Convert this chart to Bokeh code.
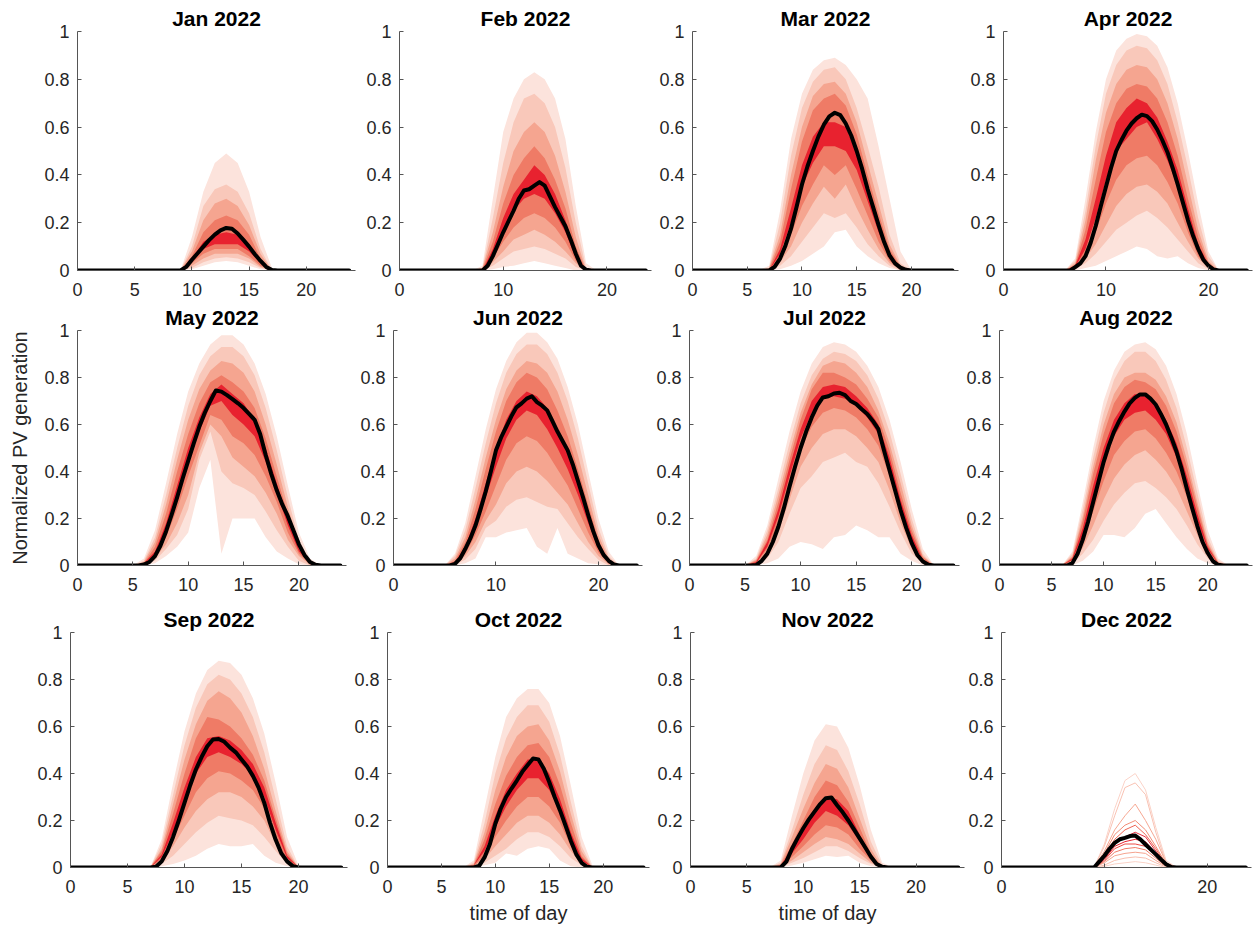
import numpy as np
from bokeh.plotting import figure
from bokeh.layouts import column, row
from bokeh.models import Range1d, FixedTicker, CustomJSTickFormatter
from bokeh.embed import file_html
from bokeh.resources import INLINE

# ---------------- data ----------------
HOURS = [float(h) for h in range(24)] + [23.75]
HALF_HOURS = [h * 0.5 for h in range(48)] + [23.75]
QUANTILES = [5, 15, 25, 35, 45, 55, 65, 75, 85, 95]
Y_TICKS = [0, 0.2, 0.4, 0.6, 0.8, 1]
X_TICKS_FINE = [0, 5, 10, 15, 20]
X_TICKS_COARSE = [0, 10, 20]
MONTH_TITLES = ["Jan 2022", "Feb 2022", "Mar 2022", "Apr 2022", "May 2022", "Jun 2022",
                "Jul 2022", "Aug 2022", "Sep 2022", "Oct 2022", "Nov 2022", "Dec 2022"]

# mean profiles, half-hourly from *_START hour
JAN_START = 9
JAN_MEAN = [0.0, 0.015, 0.045, 0.072, 0.10, 0.127, 0.15, 0.168, 0.178, 0.175, 0.155, 0.128,
            0.10, 0.068, 0.04, 0.015, 0.002, 0.0]
# quantile profiles (5th ... 95th percentile), hourly from *_START hour
JAN_Q = [
    [0.0, 0.005, 0.02, 0.035, 0.04, 0.035, 0.02, 0.005, 0.0],
    [0.0, 0.01, 0.035, 0.05, 0.055, 0.05, 0.035, 0.01, 0.0],
    [0.0, 0.02, 0.05, 0.07, 0.07, 0.07, 0.05, 0.015, 0.0],
    [0.0, 0.03, 0.07, 0.09, 0.09, 0.09, 0.06, 0.02, 0.0],
    [0.0, 0.04, 0.09, 0.11, 0.11, 0.11, 0.08, 0.03, 0.0],
    [0.0, 0.05, 0.12, 0.15, 0.16, 0.15, 0.11, 0.04, 0.0],
    [0.0, 0.06, 0.16, 0.21, 0.23, 0.21, 0.15, 0.05, 0.0],
    [0.0, 0.08, 0.21, 0.28, 0.30, 0.27, 0.19, 0.07, 0.0],
    [0.0, 0.10, 0.27, 0.34, 0.36, 0.33, 0.24, 0.09, 0.0],
    [0.0, 0.14, 0.33, 0.45, 0.49, 0.45, 0.33, 0.14, 0.01],
]

FEB_START = 8
FEB_MEAN = [0.0, 0.02, 0.06, 0.11, 0.16, 0.205, 0.25, 0.30, 0.335, 0.34, 0.355, 0.37, 0.355,
            0.31, 0.265, 0.225, 0.185, 0.13, 0.07, 0.02, 0.003, 0.0]
FEB_Q = [
    [0.0, 0.005, 0.015, 0.02, 0.03, 0.04, 0.03, 0.02, 0.01, 0.0, 0.0],
    [0.0, 0.02, 0.05, 0.08, 0.09, 0.10, 0.09, 0.07, 0.05, 0.015, 0.0],
    [0.0, 0.035, 0.08, 0.13, 0.15, 0.17, 0.15, 0.12, 0.08, 0.03, 0.0],
    [0.0, 0.05, 0.12, 0.18, 0.22, 0.24, 0.22, 0.18, 0.12, 0.04, 0.0],
    [0.0, 0.07, 0.16, 0.25, 0.30, 0.32, 0.30, 0.24, 0.16, 0.05, 0.0],
    [0.0, 0.09, 0.22, 0.32, 0.38, 0.44, 0.40, 0.32, 0.21, 0.07, 0.0],
    [0.005, 0.12, 0.28, 0.40, 0.47, 0.52, 0.47, 0.38, 0.26, 0.10, 0.0],
    [0.01, 0.16, 0.35, 0.50, 0.58, 0.62, 0.58, 0.48, 0.33, 0.14, 0.0],
    [0.01, 0.22, 0.45, 0.62, 0.72, 0.74, 0.70, 0.60, 0.43, 0.20, 0.01],
    [0.02, 0.30, 0.58, 0.72, 0.80, 0.83, 0.80, 0.72, 0.55, 0.27, 0.03],
]

MAR_START = 7
MAR_MEAN = [0.0, 0.015, 0.05, 0.105, 0.175, 0.265, 0.36, 0.435, 0.50, 0.56, 0.61, 0.645, 0.66,
            0.65, 0.615, 0.565, 0.50, 0.425, 0.34, 0.265, 0.19, 0.12, 0.063, 0.03, 0.012, 0.003, 0.0]
MAR_Q = [
    [0.0, 0.005, 0.02, 0.04, 0.07, 0.10, 0.16, 0.17, 0.10, 0.06, 0.03, 0.01, 0.0, 0.0],
    [0.0, 0.02, 0.06, 0.12, 0.18, 0.24, 0.22, 0.24, 0.18, 0.11, 0.06, 0.02, 0.0, 0.0],
    [0.0, 0.035, 0.10, 0.20, 0.28, 0.35, 0.30, 0.36, 0.26, 0.17, 0.09, 0.03, 0.003, 0.0],
    [0.0, 0.05, 0.15, 0.27, 0.36, 0.44, 0.40, 0.44, 0.34, 0.23, 0.12, 0.04, 0.005, 0.0],
    [0.0, 0.07, 0.20, 0.35, 0.45, 0.52, 0.52, 0.50, 0.42, 0.29, 0.16, 0.05, 0.008, 0.0],
    [0.0, 0.09, 0.26, 0.44, 0.56, 0.62, 0.62, 0.60, 0.49, 0.34, 0.20, 0.07, 0.01, 0.0],
    [0.005, 0.12, 0.34, 0.54, 0.67, 0.72, 0.74, 0.69, 0.57, 0.40, 0.24, 0.09, 0.015, 0.0],
    [0.01, 0.15, 0.40, 0.60, 0.73, 0.78, 0.79, 0.74, 0.62, 0.45, 0.28, 0.11, 0.02, 0.0],
    [0.01, 0.20, 0.48, 0.68, 0.79, 0.84, 0.85, 0.80, 0.68, 0.52, 0.35, 0.15, 0.03, 0.0],
    [0.02, 0.25, 0.55, 0.74, 0.84, 0.88, 0.89, 0.86, 0.80, 0.72, 0.52, 0.30, 0.08, 0.0],
]

APR_START = 6
APR_MEAN = [0.0, 0.0, 0.014, 0.03, 0.06, 0.115, 0.186, 0.27, 0.35, 0.43, 0.50, 0.545, 0.585,
            0.615, 0.637, 0.652, 0.646, 0.625, 0.59, 0.545, 0.495, 0.43, 0.36, 0.285, 0.21,
            0.145, 0.09, 0.045, 0.02, 0.004, 0.0]
APR_Q = [
    [0.0, 0.0, 0.01, 0.02, 0.04, 0.06, 0.08, 0.10, 0.09, 0.06, 0.05, 0.06, 0.03, 0.01, 0.0, 0.0],
    [0.0, 0.005, 0.03, 0.07, 0.12, 0.17, 0.20, 0.23, 0.25, 0.22, 0.18, 0.13, 0.08, 0.03, 0.005, 0.0],
    [0.0, 0.008, 0.05, 0.11, 0.19, 0.27, 0.32, 0.35, 0.36, 0.33, 0.28, 0.20, 0.12, 0.05, 0.01, 0.0],
    [0.0, 0.01, 0.07, 0.16, 0.28, 0.38, 0.44, 0.47, 0.48, 0.44, 0.37, 0.28, 0.16, 0.06, 0.015, 0.0],
    [0.0, 0.015, 0.09, 0.22, 0.38, 0.50, 0.55, 0.60, 0.62, 0.55, 0.46, 0.35, 0.20, 0.08, 0.02, 0.0],
    [0.0, 0.02, 0.13, 0.30, 0.48, 0.62, 0.68, 0.72, 0.70, 0.64, 0.54, 0.42, 0.26, 0.11, 0.025, 0.0],
    [0.0, 0.025, 0.17, 0.38, 0.58, 0.70, 0.76, 0.78, 0.77, 0.72, 0.62, 0.48, 0.30, 0.14, 0.03, 0.0],
    [0.0, 0.03, 0.21, 0.46, 0.66, 0.78, 0.84, 0.86, 0.85, 0.80, 0.70, 0.55, 0.36, 0.17, 0.04, 0.0],
    [0.0, 0.04, 0.25, 0.52, 0.74, 0.86, 0.92, 0.94, 0.93, 0.88, 0.78, 0.62, 0.43, 0.22, 0.06, 0.0],
    [0.0, 0.05, 0.30, 0.58, 0.80, 0.92, 0.97, 0.99, 0.98, 0.94, 0.85, 0.70, 0.50, 0.28, 0.08, 0.0],
]

MAY_START = 5
MAY_MEAN = [0.0, 0.0, 0.004, 0.015, 0.04, 0.085, 0.145, 0.215, 0.29, 0.37, 0.445, 0.52, 0.59,
            0.65, 0.70, 0.745, 0.74, 0.725, 0.708, 0.69, 0.67, 0.645, 0.62, 0.56, 0.47, 0.39,
            0.32, 0.26, 0.21, 0.15, 0.09, 0.045, 0.015, 0.003, 0.0]
MAY_Q = [
    [0.0, 0.0, 0.01, 0.04, 0.08, 0.14, 0.33, 0.45, 0.05, 0.20, 0.20, 0.20, 0.12, 0.06, 0.03, 0.005, 0.0, 0.0],
    [0.0, 0.002, 0.02, 0.07, 0.13, 0.24, 0.45, 0.57, 0.40, 0.35, 0.33, 0.30, 0.23, 0.15, 0.08, 0.02, 0.0, 0.0],
    [0.0, 0.003, 0.03, 0.09, 0.18, 0.30, 0.48, 0.60, 0.55, 0.46, 0.42, 0.38, 0.31, 0.22, 0.11, 0.04, 0.003, 0.0],
    [0.0, 0.005, 0.04, 0.12, 0.24, 0.38, 0.51, 0.64, 0.62, 0.55, 0.52, 0.47, 0.38, 0.27, 0.14, 0.05, 0.005, 0.0],
    [0.0, 0.005, 0.05, 0.15, 0.29, 0.44, 0.57, 0.68, 0.70, 0.64, 0.60, 0.55, 0.44, 0.31, 0.17, 0.06, 0.01, 0.0],
    [0.0, 0.01, 0.06, 0.18, 0.34, 0.50, 0.63, 0.73, 0.77, 0.73, 0.69, 0.62, 0.50, 0.35, 0.20, 0.07, 0.01, 0.0],
    [0.0, 0.01, 0.08, 0.22, 0.40, 0.56, 0.69, 0.78, 0.81, 0.78, 0.74, 0.67, 0.54, 0.38, 0.22, 0.08, 0.01, 0.0],
    [0.0, 0.015, 0.10, 0.26, 0.45, 0.62, 0.75, 0.83, 0.87, 0.86, 0.82, 0.74, 0.60, 0.43, 0.25, 0.09, 0.015, 0.0],
    [0.0, 0.02, 0.12, 0.30, 0.50, 0.68, 0.81, 0.89, 0.93, 0.93, 0.89, 0.81, 0.67, 0.49, 0.29, 0.11, 0.02, 0.0],
    [0.0, 0.03, 0.15, 0.35, 0.56, 0.74, 0.86, 0.94, 0.98, 0.98, 0.94, 0.86, 0.73, 0.55, 0.34, 0.14, 0.03, 0.0],
]

JUN_START = 5
JUN_MEAN = [0.0, 0.0, 0.007, 0.03, 0.07, 0.115, 0.17, 0.24, 0.315, 0.40, 0.49, 0.545, 0.59,
            0.635, 0.673, 0.69, 0.71, 0.72, 0.695, 0.68, 0.66, 0.615, 0.57, 0.53, 0.49, 0.43,
            0.36, 0.29, 0.215, 0.145, 0.086, 0.045, 0.02, 0.005, 0.0]
JUN_Q = [
    [0.0, 0.0, 0.01, 0.03, 0.12, 0.12, 0.14, 0.15, 0.16, 0.08, 0.05, 0.16, 0.05, 0.03, 0.01, 0.005, 0.0, 0.0],
    [0.0, 0.003, 0.025, 0.07, 0.16, 0.19, 0.25, 0.28, 0.29, 0.27, 0.25, 0.24, 0.18, 0.12, 0.07, 0.025, 0.0, 0.0],
    [0.0, 0.005, 0.04, 0.10, 0.19, 0.26, 0.35, 0.40, 0.42, 0.40, 0.36, 0.31, 0.26, 0.18, 0.10, 0.04, 0.005, 0.0],
    [0.0, 0.008, 0.05, 0.13, 0.23, 0.34, 0.45, 0.52, 0.55, 0.53, 0.48, 0.41, 0.34, 0.24, 0.14, 0.055, 0.008, 0.0],
    [0.0, 0.01, 0.065, 0.16, 0.29, 0.42, 0.54, 0.62, 0.66, 0.64, 0.58, 0.50, 0.41, 0.30, 0.18, 0.07, 0.01, 0.0],
    [0.0, 0.015, 0.08, 0.20, 0.35, 0.50, 0.62, 0.70, 0.74, 0.72, 0.67, 0.58, 0.48, 0.36, 0.22, 0.09, 0.015, 0.0],
    [0.0, 0.02, 0.10, 0.24, 0.41, 0.57, 0.70, 0.78, 0.82, 0.80, 0.75, 0.66, 0.55, 0.41, 0.26, 0.11, 0.02, 0.0],
    [0.0, 0.03, 0.12, 0.28, 0.46, 0.62, 0.75, 0.83, 0.87, 0.86, 0.82, 0.74, 0.62, 0.47, 0.30, 0.13, 0.03, 0.0],
    [0.0, 0.04, 0.15, 0.33, 0.52, 0.69, 0.82, 0.90, 0.94, 0.94, 0.90, 0.82, 0.70, 0.54, 0.35, 0.16, 0.04, 0.0],
    [0.0, 0.05, 0.18, 0.38, 0.58, 0.75, 0.87, 0.95, 0.99, 0.99, 0.95, 0.88, 0.76, 0.60, 0.40, 0.20, 0.06, 0.0],
]

JUL_START = 5
JUL_MEAN = [0.0, 0.0, 0.002, 0.02, 0.05, 0.10, 0.165, 0.245, 0.335, 0.42, 0.50, 0.57, 0.63,
            0.68, 0.715, 0.72, 0.732, 0.735, 0.725, 0.70, 0.687, 0.665, 0.645, 0.615, 0.58,
            0.49, 0.405, 0.32, 0.235, 0.16, 0.095, 0.045, 0.017, 0.003, 0.0]
JUL_Q = [
    [0.0, 0.0, 0.01, 0.03, 0.08, 0.10, 0.09, 0.07, 0.12, 0.13, 0.17, 0.15, 0.12, 0.12, 0.05, 0.02, 0.0, 0.0],
    [0.0, 0.003, 0.03, 0.10, 0.22, 0.33, 0.38, 0.44, 0.46, 0.48, 0.44, 0.42, 0.35, 0.25, 0.14, 0.05, 0.01, 0.0],
    [0.0, 0.005, 0.05, 0.14, 0.28, 0.42, 0.50, 0.56, 0.58, 0.58, 0.55, 0.50, 0.44, 0.32, 0.18, 0.07, 0.01, 0.0],
    [0.0, 0.008, 0.07, 0.18, 0.34, 0.49, 0.59, 0.65, 0.67, 0.66, 0.63, 0.58, 0.51, 0.38, 0.22, 0.09, 0.015, 0.0],
    [0.0, 0.01, 0.08, 0.21, 0.38, 0.54, 0.65, 0.71, 0.72, 0.71, 0.68, 0.63, 0.56, 0.42, 0.25, 0.11, 0.02, 0.0],
    [0.0, 0.015, 0.10, 0.24, 0.42, 0.58, 0.70, 0.76, 0.77, 0.76, 0.72, 0.67, 0.60, 0.46, 0.28, 0.13, 0.025, 0.0],
    [0.0, 0.02, 0.11, 0.27, 0.45, 0.62, 0.75, 0.82, 0.82, 0.80, 0.77, 0.71, 0.63, 0.49, 0.31, 0.15, 0.035, 0.0],
    [0.0, 0.025, 0.13, 0.30, 0.48, 0.65, 0.77, 0.85, 0.87, 0.86, 0.82, 0.76, 0.66, 0.52, 0.35, 0.17, 0.04, 0.0],
    [0.0, 0.03, 0.15, 0.33, 0.52, 0.69, 0.81, 0.88, 0.91, 0.90, 0.87, 0.81, 0.71, 0.57, 0.39, 0.20, 0.05, 0.0],
    [0.0, 0.04, 0.17, 0.37, 0.57, 0.74, 0.86, 0.93, 0.95, 0.94, 0.91, 0.85, 0.76, 0.62, 0.44, 0.24, 0.07, 0.0],
]

AUG_START = 6
AUG_MEAN = [0.0, 0.0, 0.01, 0.05, 0.11, 0.185, 0.27, 0.355, 0.44, 0.51, 0.57, 0.615, 0.655,
            0.69, 0.713, 0.728, 0.728, 0.71, 0.685, 0.645, 0.60, 0.545, 0.485, 0.41, 0.325,
            0.245, 0.168, 0.10, 0.053, 0.018, 0.003, 0.0]
AUG_Q = [
    [0.0, 0.0, 0.02, 0.06, 0.13, 0.13, 0.12, 0.16, 0.22, 0.24, 0.18, 0.12, 0.07, 0.03, 0.01, 0.0, 0.0],
    [0.0, 0.01, 0.05, 0.11, 0.19, 0.26, 0.31, 0.35, 0.36, 0.33, 0.29, 0.24, 0.17, 0.09, 0.03, 0.0, 0.0],
    [0.0, 0.015, 0.075, 0.17, 0.28, 0.37, 0.43, 0.47, 0.49, 0.45, 0.40, 0.33, 0.23, 0.13, 0.04, 0.004, 0.0],
    [0.0, 0.02, 0.10, 0.23, 0.36, 0.47, 0.53, 0.57, 0.58, 0.54, 0.48, 0.40, 0.29, 0.16, 0.055, 0.006, 0.0],
    [0.0, 0.025, 0.13, 0.29, 0.44, 0.55, 0.62, 0.65, 0.66, 0.62, 0.56, 0.46, 0.34, 0.19, 0.07, 0.008, 0.0],
    [0.0, 0.03, 0.16, 0.34, 0.50, 0.62, 0.69, 0.73, 0.72, 0.69, 0.62, 0.52, 0.38, 0.22, 0.08, 0.01, 0.0],
    [0.0, 0.035, 0.19, 0.39, 0.56, 0.69, 0.76, 0.79, 0.78, 0.75, 0.68, 0.57, 0.42, 0.25, 0.09, 0.012, 0.0],
    [0.0, 0.04, 0.21, 0.42, 0.60, 0.73, 0.80, 0.82, 0.82, 0.79, 0.72, 0.61, 0.45, 0.27, 0.10, 0.015, 0.0],
    [0.0, 0.05, 0.24, 0.46, 0.65, 0.79, 0.87, 0.91, 0.91, 0.87, 0.79, 0.67, 0.50, 0.31, 0.12, 0.02, 0.0],
    [0.0, 0.06, 0.27, 0.50, 0.70, 0.83, 0.91, 0.94, 0.95, 0.92, 0.85, 0.73, 0.56, 0.35, 0.15, 0.03, 0.0],
]

SEP_START = 7
SEP_MEAN = [0.0, 0.003, 0.026, 0.07, 0.13, 0.20, 0.275, 0.35, 0.417, 0.47, 0.516, 0.545, 0.547,
            0.535, 0.51, 0.49, 0.46, 0.43, 0.39, 0.34, 0.275, 0.19, 0.118, 0.06, 0.026, 0.006, 0.0]
SEP_Q = [
    [0.0, 0.005, 0.015, 0.03, 0.05, 0.08, 0.10, 0.09, 0.09, 0.10, 0.05, 0.02, 0.005, 0.0],
    [0.0, 0.015, 0.05, 0.10, 0.15, 0.19, 0.22, 0.21, 0.20, 0.18, 0.13, 0.07, 0.015, 0.0],
    [0.0, 0.025, 0.09, 0.17, 0.24, 0.29, 0.32, 0.32, 0.30, 0.26, 0.20, 0.10, 0.02, 0.0],
    [0.0, 0.035, 0.12, 0.22, 0.32, 0.38, 0.41, 0.40, 0.37, 0.33, 0.25, 0.13, 0.03, 0.0],
    [0.0, 0.045, 0.15, 0.28, 0.40, 0.47, 0.49, 0.47, 0.44, 0.39, 0.30, 0.16, 0.04, 0.0],
    [0.0, 0.055, 0.19, 0.34, 0.47, 0.55, 0.56, 0.54, 0.50, 0.44, 0.34, 0.19, 0.05, 0.0],
    [0.0, 0.07, 0.23, 0.40, 0.55, 0.64, 0.63, 0.60, 0.55, 0.48, 0.37, 0.21, 0.06, 0.0],
    [0.0, 0.08, 0.27, 0.46, 0.61, 0.71, 0.75, 0.72, 0.66, 0.56, 0.42, 0.24, 0.07, 0.0],
    [0.0, 0.10, 0.31, 0.52, 0.68, 0.78, 0.82, 0.80, 0.74, 0.64, 0.49, 0.29, 0.09, 0.0],
    [0.0, 0.12, 0.36, 0.58, 0.74, 0.84, 0.88, 0.87, 0.82, 0.72, 0.57, 0.36, 0.13, 0.01],
]

OCT_START = 7
OCT_MEAN = [0.0, 0.0, 0.0, 0.007, 0.043, 0.10, 0.186, 0.25, 0.30, 0.336, 0.37, 0.407, 0.436,
            0.464, 0.46, 0.42, 0.364, 0.30, 0.243, 0.18, 0.114, 0.057, 0.02, 0.003, 0.0]
OCT_Q = [
    [0.0, 0.0, 0.01, 0.02, 0.06, 0.05, 0.08, 0.09, 0.08, 0.03, 0.005, 0.0, 0.0],
    [0.0, 0.002, 0.02, 0.05, 0.08, 0.12, 0.15, 0.15, 0.13, 0.09, 0.04, 0.01, 0.0],
    [0.0, 0.004, 0.035, 0.09, 0.14, 0.19, 0.22, 0.22, 0.19, 0.14, 0.07, 0.015, 0.0],
    [0.0, 0.006, 0.05, 0.13, 0.20, 0.26, 0.30, 0.30, 0.26, 0.19, 0.09, 0.02, 0.0],
    [0.0, 0.008, 0.07, 0.17, 0.26, 0.33, 0.38, 0.38, 0.33, 0.24, 0.12, 0.03, 0.0],
    [0.0, 0.01, 0.09, 0.22, 0.33, 0.40, 0.46, 0.46, 0.40, 0.29, 0.15, 0.04, 0.0],
    [0.0, 0.01, 0.12, 0.27, 0.39, 0.47, 0.52, 0.53, 0.47, 0.35, 0.19, 0.05, 0.0],
    [0.0, 0.015, 0.15, 0.33, 0.47, 0.56, 0.60, 0.61, 0.54, 0.41, 0.23, 0.07, 0.0],
    [0.0, 0.02, 0.19, 0.40, 0.55, 0.64, 0.69, 0.69, 0.62, 0.48, 0.28, 0.09, 0.0],
    [0.0, 0.03, 0.25, 0.47, 0.64, 0.72, 0.76, 0.76, 0.70, 0.56, 0.35, 0.13, 0.01],
]

NOV_START = 7
NOV_MEAN = [0.0, 0.0, 0.0, 0.025, 0.08, 0.125, 0.167, 0.205, 0.238, 0.27, 0.295, 0.298, 0.265,
            0.235, 0.20, 0.162, 0.124, 0.085, 0.046, 0.015, 0.003, 0.0]
NOV_Q = [
    [0.0, 0.0, 0.008, 0.02, 0.035, 0.05, 0.045, 0.05, 0.02, 0.005, 0.0, 0.0],
    [0.0, 0.002, 0.02, 0.04, 0.065, 0.09, 0.09, 0.07, 0.04, 0.015, 0.0, 0.0],
    [0.0, 0.003, 0.03, 0.065, 0.10, 0.13, 0.12, 0.10, 0.06, 0.02, 0.0, 0.0],
    [0.0, 0.004, 0.045, 0.09, 0.14, 0.18, 0.17, 0.14, 0.08, 0.03, 0.0, 0.0],
    [0.0, 0.006, 0.06, 0.12, 0.19, 0.24, 0.22, 0.18, 0.11, 0.04, 0.0, 0.0],
    [0.0, 0.008, 0.08, 0.16, 0.24, 0.30, 0.29, 0.24, 0.14, 0.05, 0.0, 0.0],
    [0.0, 0.01, 0.10, 0.20, 0.30, 0.37, 0.35, 0.28, 0.17, 0.06, 0.0, 0.0],
    [0.0, 0.015, 0.13, 0.25, 0.36, 0.44, 0.42, 0.34, 0.21, 0.08, 0.0, 0.0],
    [0.0, 0.02, 0.16, 0.31, 0.44, 0.52, 0.50, 0.41, 0.27, 0.11, 0.01, 0.0],
    [0.0, 0.03, 0.22, 0.40, 0.54, 0.61, 0.60, 0.51, 0.35, 0.16, 0.02, 0.0],
]

DEC_START = 9
DEC_MEAN = [0.0, 0.025, 0.05, 0.08, 0.105, 0.12, 0.126, 0.134, 0.136, 0.12, 0.098, 0.077,
            0.056, 0.034, 0.014, 0.002, 0.0]
# December: individual profiles (hourly from DEC_START)
DEC_LINES = [
    [0.0, 0.10, 0.25, 0.37, 0.40, 0.33, 0.17, 0.03, 0.0],
    [0.0, 0.09, 0.22, 0.34, 0.36, 0.31, 0.15, 0.02, 0.0],
    [0.0, 0.07, 0.16, 0.22, 0.27, 0.20, 0.12, 0.02, 0.0],
    [0.0, 0.06, 0.14, 0.18, 0.20, 0.16, 0.09, 0.015, 0.0],
    [0.0, 0.05, 0.12, 0.16, 0.18, 0.14, 0.08, 0.01, 0.0],
    [0.0, 0.04, 0.10, 0.13, 0.15, 0.13, 0.07, 0.01, 0.0],
    [0.0, 0.035, 0.09, 0.11, 0.12, 0.11, 0.06, 0.01, 0.0],
    [0.0, 0.03, 0.08, 0.10, 0.10, 0.09, 0.05, 0.008, 0.0],
    [0.0, 0.025, 0.065, 0.08, 0.085, 0.075, 0.04, 0.005, 0.0],
    [0.0, 0.02, 0.05, 0.06, 0.065, 0.06, 0.03, 0.004, 0.0],
    [0.0, 0.01, 0.03, 0.04, 0.045, 0.04, 0.02, 0.002, 0.0],
    [0.0, 0.005, 0.015, 0.02, 0.025, 0.02, 0.01, 0.0, 0.0],
]

STARTS = [JAN_START, FEB_START, MAR_START, APR_START, MAY_START, JUN_START,
          JUL_START, AUG_START, SEP_START, OCT_START, NOV_START, DEC_START]
MEANS = [JAN_MEAN, FEB_MEAN, MAR_MEAN, APR_MEAN, MAY_MEAN, JUN_MEAN,
         JUL_MEAN, AUG_MEAN, SEP_MEAN, OCT_MEAN, NOV_MEAN, DEC_MEAN]
BANDS = [JAN_Q, FEB_Q, MAR_Q, APR_Q, MAY_Q, JUN_Q, JUL_Q, AUG_Q, SEP_Q, OCT_Q, NOV_Q, None]
X_TICKS = [X_TICKS_FINE, X_TICKS_COARSE, X_TICKS_FINE, X_TICKS_COARSE,
           X_TICKS_FINE, X_TICKS_COARSE, X_TICKS_FINE, X_TICKS_FINE,
           X_TICKS_FINE, X_TICKS_FINE, X_TICKS_FINE, X_TICKS_COARSE]

# ---------------- style / geometry ----------------
LEVEL_COLORS = ["#FCE3DC", "#F9C8BA", "#F5A590", "#EF7B66", "#E8222F"]
DEC_LINE_COLORS = ["#FBD3C8", "#F9C2B3", "#F6A792", "#F28C76", "#EE6453", "#E93040",
                   "#E8222F", "#EC4A45", "#F07A66", "#F5A38E", "#F8BFAF", "#FAD3C8"]
FONT = "Liberation Sans"
TXT = "#262626"
X_END = 24.3

# rows: (cell_y0, cell_y1, frame_top, frame_bottom)
ROWS = [(0, 302, 31, 270), (302, 598, 330, 565), (598, 928, 632, 867)]
# columns per panel: (cell_x0, cell_x1, frame_left, frame_right)
COLS = [
    (0, 357, 77, 355), (357, 652, 399, 651), (652, 961, 692, 958), (961, 1256, 1003, 1252),
    (0, 350, 77, 346), (350, 647, 393, 642), (647, 962, 689, 959), (962, 1256, 999, 1252),
    (0, 350, 70, 347), (350, 652, 387, 649), (652, 965, 690, 964), (965, 1256, 1000, 1251),
]


def full_day(grid, start_idx, vals):
    arr = np.zeros(len(grid))
    arr[start_idx:start_idx + len(vals)] = vals
    return arr


def make_panel(i):
    cx0, cx1, fl, fr = COLS[i]
    cy0, cy1, ft, fb = ROWS[i // 4]
    p = figure(width=cx1 - cx0, height=cy1 - cy0,
               min_border_left=fl - cx0, min_border_right=cx1 - fr,
               min_border_top=ft - cy0, min_border_bottom=cy1 - fb,
               x_range=Range1d(0, X_END), y_range=Range1d(0, 1),
               output_backend="svg", toolbar_location=None, tools="",
               title=MONTH_TITLES[i])
    p.outline_line_color = None
    p.grid.visible = False
    p.background_fill_color = "white"
    p.border_fill_color = "white"

    t = p.title
    t.align = "center"
    t.text_font = FONT
    t.text_font_size = "21px"
    t.text_font_style = "bold"
    t.text_color = "#000000"
    t.standoff = 3

    start = STARTS[i]
    if BANDS[i] is not None:
        q = np.sort(np.array([full_day(HOURS, start, b) for b in BANDS[i]]), axis=0)
        n = len(QUANTILES)
        for k in range(n // 2):
            p.varea(x=HOURS, y1=q[k], y2=q[n - 1 - k], fill_color=LEVEL_COLORS[k], fill_alpha=1.0)
    else:
        for k, ln in enumerate(DEC_LINES):
            p.line(HOURS, full_day(HOURS, start, ln), line_color=DEC_LINE_COLORS[k], line_width=1.0)

    p.line(HALF_HOURS, full_day(HALF_HOURS, start * 2, MEANS[i]), line_color="black",
           line_width=4, line_join="round", line_cap="round")

    for ax in (p.xaxis[0], p.yaxis[0]):
        ax.axis_line_color = "#555555"
        ax.axis_line_width = 1
        ax.major_tick_line_color = "#555555"
        ax.major_tick_in = 4
        ax.major_tick_out = 0
        ax.minor_tick_line_color = None
        ax.major_label_text_font = FONT
        ax.major_label_text_font_size = "18px"
        ax.major_label_text_color = TXT
        ax.axis_label_text_font = FONT
        ax.axis_label_text_font_size = "20px"
        ax.axis_label_text_font_style = "normal"
        ax.axis_label_text_color = TXT

    p.xaxis.ticker = FixedTicker(ticks=X_TICKS[i])
    p.xaxis.major_label_standoff = 12
    p.yaxis.ticker = FixedTicker(ticks=Y_TICKS)
    p.yaxis.formatter = CustomJSTickFormatter(code="return tick.toString();")
    p.yaxis.major_label_standoff = 8

    if i == 4:
        p.yaxis.axis_label = "Normalized PV generation"
        p.yaxis.axis_label_standoff = 10
    if i in (9, 10):
        p.xaxis.axis_label = "time of day"
        p.xaxis.axis_label_standoff = 6
    return p


panels = [make_panel(i) for i in range(12)]
layout = column(row(*panels[0:4]), row(*panels[4:8]), row(*panels[8:12]))

open("out.html", "w").write(file_html(layout, INLINE))
